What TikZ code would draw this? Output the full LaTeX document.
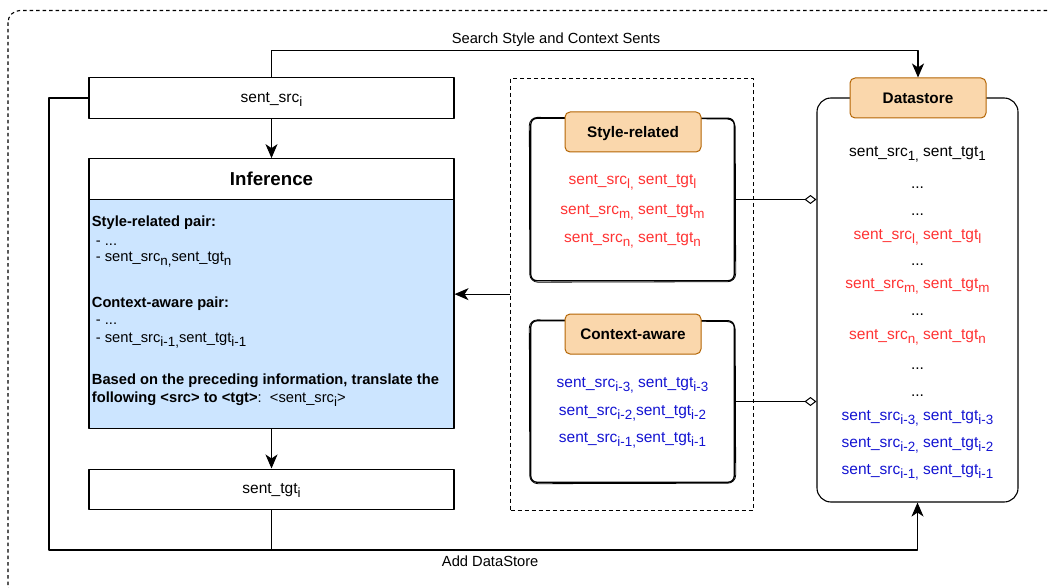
\documentclass[tikz,border=0pt]{standalone}
\usepackage{fontspec}
\setmainfont{Liberation Sans}
\usetikzlibrary{arrows.meta,calc}
\definecolor{ofill}{HTML}{FAD7AC}
\definecolor{odraw}{HTML}{B46504}
\definecolor{bfill}{HTML}{CCE5FF}
\definecolor{tred}{HTML}{FF3333}
\definecolor{tblue}{HTML}{1414D2}
\newcommand{\sbx}[1]{\raisebox{-4pt}{\fontsize{13.4}{14}\selectfont #1}}
\newcommand{\fsL}{\fontsize{15.5}{18}\selectfont}
\newcommand{\fsM}{\fontsize{14.7}{17}\selectfont}
\newcommand{\sketchbox}[1]{%
  \draw[line width=1.3pt, rounded corners=6pt] (#1.north west) rectangle (#1.south east);
  \draw[line width=0.8pt, rounded corners=8pt] ([shift={(-1.5,-1)}]#1.north west) -- ([shift={(1,0.8)}]#1.north east) -- ([shift={(1.5,1)}]#1.south east) -- ([shift={(-1,1.5)}]#1.south west) -- cycle;}
\begin{document}
\begin{tikzpicture}[x=1pt,y=-1pt, line join=round,
  box/.style={draw, line width=1.1pt, minimum width=365pt, minimum height=40.5pt, inner sep=0pt, font=\fsL, text height=11pt, text depth=1.6pt},
  hdr/.style={draw=odraw, fill=ofill, line width=1pt, rounded corners=5pt, minimum width=136pt, minimum height=40pt, inner sep=0pt, font=\fontsize{15.3}{18}\selectfont\bfseries, text height=11pt, text depth=0.6pt},
  arr/.style={line width=1.1pt, -{Stealth[length=14pt,width=12pt,inset=4pt]}},
  dia/.style={line width=1pt, -{Diamond[open,length=12pt,width=9pt,fill=white]}},
  ln/.style={anchor=base, inner sep=0pt, font=\fsL},
  bl/.style={anchor=base west, inner sep=0pt, font=\fsM},
  lbl/.style={font=\fsM, inner sep=0pt, anchor=base},
]
\useasboundingbox (0,0) rectangle (1048,588);
\clip (0,0) rectangle (1048,588);
\fill[white] (0,0) rectangle (1048,588);
% outer dashed frame
\draw[dash pattern=on 3.5pt off 3pt, line width=1.1pt, rounded corners=12pt] (8,10.5) rectangle (1070,600);

% left column
\node[box] (src) at (271.5,98) {sent\_src\sbx{i}};
\node[box, font=\fontsize{18.7}{22}\selectfont\bfseries, text height=14pt, text depth=0.6pt, minimum height=40.6pt] (ih) at (271.5,179) {Inference};
\node[draw, fill=bfill, line width=1.1pt, minimum width=365pt, minimum height=229.4pt, inner sep=0pt] (ib) at (271.5,314) {};
\node[box, text depth=3pt] (tgt) at (271.5,489.3) {sent\_tgt\sbx{i}};

\node[bl, font=\fsM\bfseries] (t1) at (91.7,226) {Style-related pair:};
\node[bl] (t2) at (95.7,245) {- ...};
\node[bl] (t3) at (95.7,261.7) {- sent\_src\sbx{n,}sent\_tgt\sbx{n}};
\node[bl, font=\fsM\bfseries] (t4) at (91.7,307.3) {Context-aware pair:};
\node[bl] (t5) at (95.7,324) {- ...};
\node[bl] (t6) at (95.7,342.3) {- sent\_src\sbx{i-1,}sent\_tgt\sbx{i-1}};
\node[bl, font=\fsM\bfseries] (t7) at (91.7,384.3) {Based on the preceding information, translate the};
\node[bl] (t8) at (91.7,402.7) {{\bfseries following <src> to <tgt>}:\ \ <sent\_src\sbx{i}>};

% middle dashed group
\node[draw, dash pattern=on 4pt off 3pt, line width=1pt, minimum width=242.5pt, minimum height=431.7pt, inner sep=0pt] (mid) at (631.75,294.15) {};

\node[minimum width=203pt, minimum height=162pt, inner sep=0pt] (sb) at (632.5,199.5) {};
\sketchbox{sb}
\node[hdr] (sh) at (633,132) {Style-related};
\node[ln, text=tred] (s1) at (632.5,184) {sent\_src\sbx{l,} sent\_tgt\sbx{l}};
\node[ln, text=tred] (s2) at (632.5,214) {sent\_src\sbx{m,} sent\_tgt\sbx{m}};
\node[ln, text=tred] (s3) at (632.5,242) {sent\_src\sbx{n,} sent\_tgt\sbx{n}};

\node[minimum width=203pt, minimum height=161pt, inner sep=0pt] (cb) at (632.5,401.5) {};
\sketchbox{cb}
\node[hdr] (ch) at (633,334) {Context-aware};
\node[ln, text=tblue] (c1) at (632.5,387) {sent\_src\sbx{i-3,} sent\_tgt\sbx{i-3}};
\node[ln, text=tblue] (c2) at (632.5,415) {sent\_src\sbx{i-2,}sent\_tgt\sbx{i-2}};
\node[ln, text=tblue] (c3) at (632.5,442) {sent\_src\sbx{i-1,}sent\_tgt\sbx{i-1}};

% datastore
\node[draw, line width=1.1pt, rounded corners=14pt, minimum width=201pt, minimum height=404pt, inner sep=0pt] (ds) at (917.5,300) {};
\node[hdr] (dsh) at (918,98) {Datastore};
\node[ln] (d1) at (917.5,157) {sent\_src\sbx{1,} sent\_tgt\sbx{1}};
\node[ln] (d2) at (917.5,188) {...};
\node[ln] (d3) at (917.5,215) {...};
\node[ln, text=tred] (d4) at (917.5,239) {sent\_src\sbx{l,} sent\_tgt\sbx{l}};
\node[ln] (d5) at (917.5,265) {...};
\node[ln, text=tred] (d6) at (917.5,288) {sent\_src\sbx{m,} sent\_tgt\sbx{m}};
\node[ln] (d7) at (917.5,315) {...};
\node[ln, text=tred] (d8) at (917.5,339) {sent\_src\sbx{n,} sent\_tgt\sbx{n}};
\node[ln] (d9) at (917.5,369) {...};
\node[ln] (d10) at (917.5,396) {...};
\node[ln, text=tblue] (d11) at (917.5,420) {sent\_src\sbx{i-3,} sent\_tgt\sbx{i-3}};
\node[ln, text=tblue] (d12) at (917.5,447) {sent\_src\sbx{i-2,} sent\_tgt\sbx{i-2}};
\node[ln, text=tblue] (d13) at (917.5,474) {sent\_src\sbx{i-1,} sent\_tgt\sbx{i-1}};

% connectors
\draw[arr] (src.south) -- (ih.north);
\draw[arr] (ib.south) -- (tgt.north);
\draw[arr] (mid.west) -- (mid.west -| ib.east);
\coordinate (tl) at ($(src.north)+(0,-27)$);
\coordinate (tr) at (tl -| dsh.north);
\draw[arr] (src.north) -- (tl) -- node[lbl, pos=0.44, yshift=6.5pt] (lsearch) {Search Style and Context Sents} (tr) -- (dsh.north);
\coordinate (blc) at (49,550);
\draw[arr] (src.west) -| (blc) -- node[lbl, pos=0.508, yshift=-16.7pt] (ladd) {Add DataStore} (blc -| ds.south) -- (ds.south);
\draw[line width=1.1pt] (tgt.south) -- (tgt.south |- blc);
\draw[dia] (sb.east) -- (sb.east -| ds.west);
\draw[dia] (cb.east) -- (cb.east -| ds.west);
\end{tikzpicture}
\end{document}
